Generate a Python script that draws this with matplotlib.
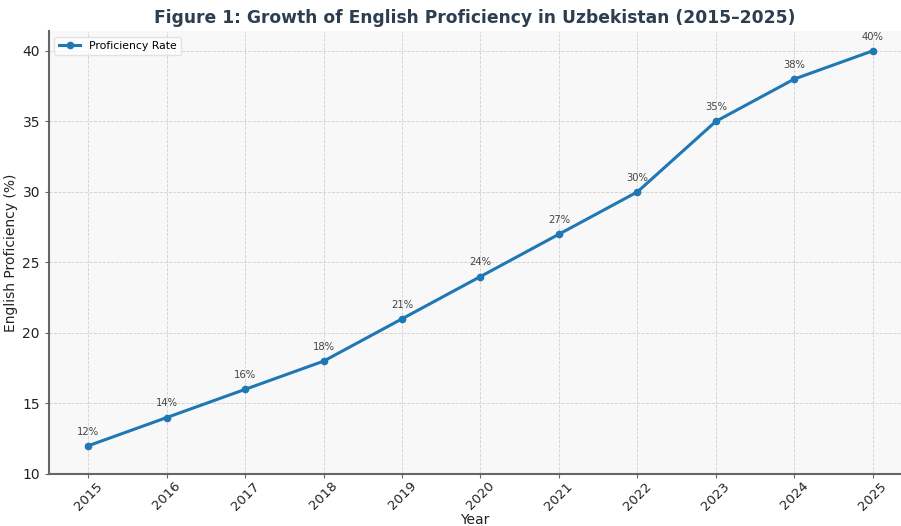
import matplotlib
matplotlib.use("Agg")
import matplotlib.pyplot as plt

years = [2015, 2016, 2017, 2018, 2019, 2020, 2021, 2022, 2023, 2024, 2025]
rates = [12, 14, 16, 18, 21, 24, 27, 30, 35, 38, 40]

fig = plt.figure(figsize=(9.01, 5.26), dpi=100)
ax = fig.add_axes([0.0544, 0.0989, 0.9456, 0.842])
ax.set_facecolor("#f8f8f8")
ax.plot(years, rates, color="#1f77b4", linewidth=2.2, marker="o", markersize=4.5, label="Proficiency Rate", zorder=3)
for x, y in zip(years, rates):
    ax.annotate(f"{y}%", (x, y), textcoords="offset points", xytext=(0, 8), ha="center",
                fontsize=7.2, color="#444444")
ax.set_xticks(years)
ax.set_xticklabels([str(y) for y in years], rotation=45, fontsize=9.5, color="#222222")
ax.tick_params(axis="y", labelsize=10, colors="#222222", length=3, color="#666666")
ax.tick_params(axis="x", colors="#222222", length=3, color="#666666", pad=1)
ax.set_ylim(10, 41.4)
ax.set_xlim(2014.5, 2025.36)
ax.grid(True, linestyle="--", linewidth=0.6, color="#d0d0d0")
ax.set_axisbelow(True)
for s in ["top", "right"]:
    ax.spines[s].set_visible(False)
for s in ["left", "bottom"]:
    ax.spines[s].set_color("#666666")
    ax.spines[s].set_linewidth(1.5)
ax.set_xlabel("Year", fontsize=10, color="#222222")
ax.xaxis.set_label_coords(0.5, -0.087)
ax.set_ylabel("English Proficiency (%)", fontsize=10, color="#222222")
ax.yaxis.set_label_coords(-0.036, 0.5)
ax.set_title("Figure 1: Growth of English Proficiency in Uzbekistan (2015–2025)", fontsize=12.3,
             fontweight="bold", color="#2c3e50", pad=6)
ax.legend(loc="upper left", fontsize=7.8, frameon=True, facecolor="white", edgecolor="#dddddd")
fig.savefig("out.png", dpi=100)
